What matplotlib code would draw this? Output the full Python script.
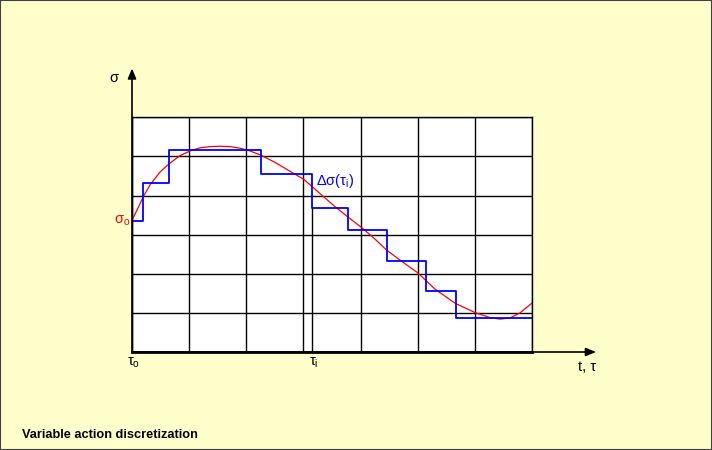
import matplotlib.pyplot as plt
from matplotlib.patches import Rectangle

# grid units: t in columns (0..7), sigma in rows (0..6)
t_curve = [0, 0.105, 0.193, 0.315, 0.49, 0.648, 0.84, 1.015, 1.19, 1.365, 1.54, 1.715,
           1.89, 2.065, 2.26, 2.50, 2.765, 3.01, 3.29, 3.55, 3.78, 4.01, 4.235, 4.46,
           4.69, 5.005, 5.30, 5.65, 6.0, 6.265, 6.44, 6.615, 6.79, 7.0]
sig_curve = [3.37, 3.68, 3.96, 4.27, 4.60, 4.81, 5.02, 5.14, 5.22, 5.25, 5.26, 5.25,
             5.21, 5.14, 5.03, 4.85, 4.62, 4.41, 4.05, 3.72, 3.45, 3.19, 2.91, 2.60,
             2.35, 2.02, 1.61, 1.25, 1.01, 0.88, 0.84, 0.87, 1.00, 1.25]

t_steps = [0, 0.2, 0.65, 2.26, 3.15, 3.78, 4.47, 5.14, 5.67, 7.0]
sig_steps = [3.36, 4.31, 5.17, 4.56, 3.69, 3.13, 2.32, 1.55, 0.86]

tau_i = 3.145
caption = "Variable action discretization"

plt.rcParams['font.family'] = ['Liberation Sans', 'DejaVu Sans']
plt.rcParams['mathtext.fontset'] = 'custom'
plt.rcParams['mathtext.rm'] = 'Liberation Sans'

fig = plt.figure(figsize=(7.12, 4.5), dpi=100)
fig.patch.set_facecolor('#FFFFCC')
fig.patches.append(Rectangle((0, 0), 1, 1, transform=fig.transFigure, fill=False,
                             edgecolor='#404040', linewidth=1.5))

ax = fig.add_axes([132 / 712, 98 / 450, 400 / 712, 234.7 / 450])
ax.set_facecolor('white')
ax.set_xlim(0, 7)
ax.set_ylim(0, 6)
ax.set_xticks(range(8))
ax.set_yticks(range(7))
ax.grid(True, color='black', linewidth=1.0)
ax.tick_params(length=0, labelbottom=False, labelleft=False)
for s in ax.spines.values():
    s.set_color('black')
    s.set_linewidth(1.0)
ax.spines['bottom'].set_linewidth(2.0)

# curve and discretization
ax.plot(t_curve, sig_curve, color='#FF0000', linewidth=0.9)
ax.plot(t_steps, sig_steps + [sig_steps[-1]], drawstyle='steps-post',
        color='#0000FF', linewidth=1.3)
ax.plot([tau_i, tau_i], [0, sig_steps[4]], color='black', linewidth=1.0)

# axes arrows
ax.annotate('', xy=(8.12, 0), xytext=(0, 0), annotation_clip=False,
            arrowprops=dict(arrowstyle='-|>,head_length=0.6,head_width=0.25',
                            color='black', linewidth=1.2, shrinkA=0, shrinkB=0))
ax.annotate('', xy=(0, 7.25), xytext=(0, 0), annotation_clip=False,
            arrowprops=dict(arrowstyle='-|>,head_length=0.6,head_width=0.25',
                            color='black', linewidth=1.2, shrinkA=0, shrinkB=0))

# labels
ax.text(-0.32, 7.0, 'σ', fontsize=10.5, ha='center', va='center', clip_on=False)
ax.text(-0.03, 3.35, r'$\mathregular{\sigma_o}$', fontsize=10.5, color='#FF0000',
        ha='right', va='center', clip_on=False)
ax.text(3.22, 4.37, r'$\mathregular{\Delta\sigma(\tau_i)}$', fontsize=10.5,
        color='#0000FF', ha='left', va='center', clip_on=False)
ax.text(0.03, -0.28, r'$\mathregular{\tau_o}$', fontsize=10.5, ha='center', va='center',
        clip_on=False)
ax.text(tau_i + 0.03, -0.28, r'$\mathregular{\tau_i}$', fontsize=10.5, ha='center',
        va='center', clip_on=False)
ax.text(7.96, -0.38, 't, τ', fontsize=10.5, ha='center', va='center', clip_on=False)

fig.text(22 / 712, 1 - 435 / 450, caption, fontsize=9.2, fontweight='bold',
         ha='left', va='center')

fig.savefig('out.png', dpi=100, facecolor=fig.get_facecolor())
